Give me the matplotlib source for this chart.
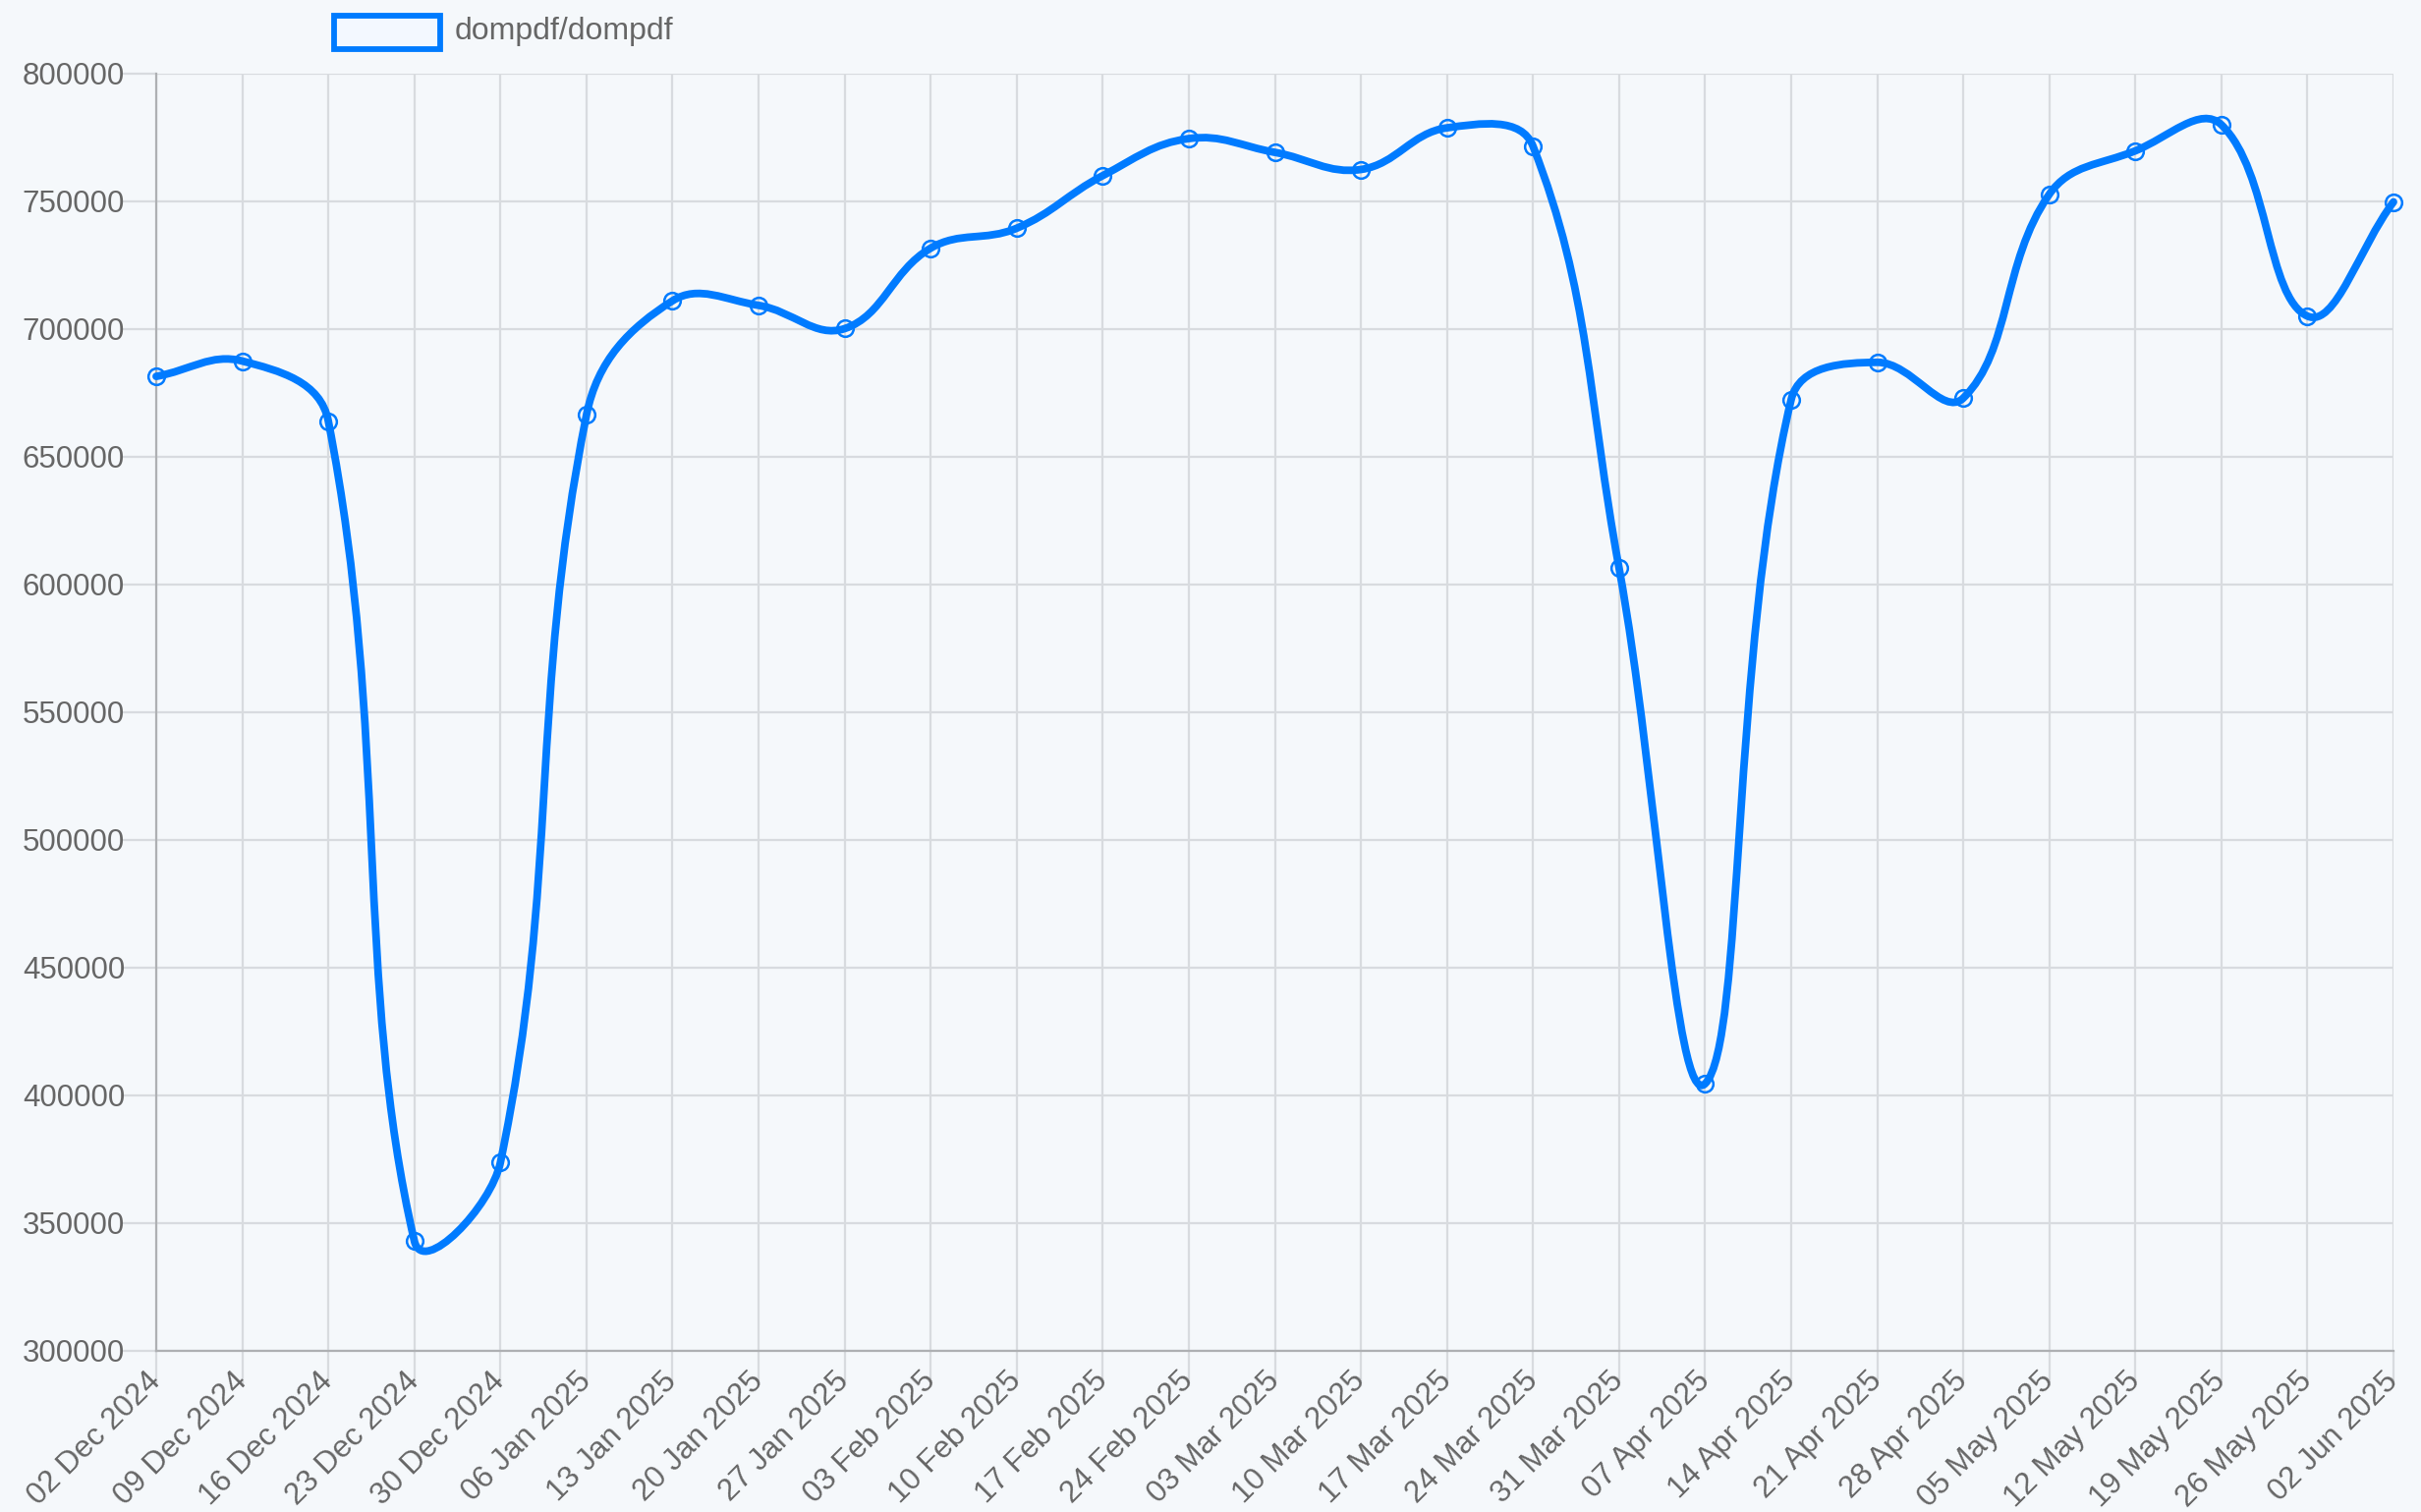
import numpy as np
import matplotlib
matplotlib.use("Agg")
import matplotlib.pyplot as plt
from matplotlib.path import Path
from matplotlib.patches import PathPatch, Rectangle

# weekly values
dates = ["02 Dec 2024", "09 Dec 2024", "16 Dec 2024", "23 Dec 2024", "30 Dec 2024",
         "06 Jan 2025", "13 Jan 2025", "20 Jan 2025", "27 Jan 2025", "03 Feb 2025",
         "10 Feb 2025", "17 Feb 2025", "24 Feb 2025", "03 Mar 2025", "10 Mar 2025",
         "17 Mar 2025", "24 Mar 2025", "31 Mar 2025", "07 Apr 2025", "14 Apr 2025",
         "21 Apr 2025", "28 Apr 2025", "05 May 2025", "12 May 2025", "19 May 2025",
         "26 May 2025", "02 Jun 2025"]
values = [681500, 687500, 664000, 343000, 373800,
          666400, 711100, 709300, 700200, 731700,
          739500, 760100, 774600, 769200, 762500,
          778800, 771600, 606500, 404600, 672400,
          687000, 673000, 752800, 769800, 780000,
          705100, 749800]
series_name = "dompdf/dompdf"
y_ticks = list(range(300000, 800001, 50000))

BG = "#f5f8fb"
BLUE = "#007bff"
GRID = "#d8dbdf"
AXIS = "#aeb0b3"
TXT = "#666666"

W_PX, H_PX, DPI = 2464, 1539, 100
L, R, B, T = 159 / W_PX, 2436 / W_PX, 1 - 1375 / H_PX, 1 - 75 / H_PX

plt.rcParams["font.family"] = ["Liberation Sans", "DejaVu Sans"]
fig = plt.figure(figsize=(W_PX / DPI, H_PX / DPI), dpi=DPI, facecolor=BG)
ax = fig.add_axes([L, B, R - L, T - B], facecolor=BG)

x = np.arange(len(values), dtype=float)
y = np.asarray(values, dtype=float)
ymin, ymax = y_ticks[0], y_ticks[-1]
ax.set_xlim(0, len(values) - 1)
ax.set_ylim(ymin, ymax)

# Chart.js style bezier (tension 0.4), control points computed in pixel space
pw, ph = (R - L) * W_PX, (T - B) * H_PX
px = x / (len(values) - 1) * pw
py = (y - ymin) / (ymax - ymin) * ph
n = len(values)
cp_prev = np.zeros((n, 2))
cp_next = np.zeros((n, 2))
tension = 0.4
for i in range(n):
    p0 = np.array([px[max(i - 1, 0)], py[max(i - 1, 0)]])
    p1 = np.array([px[i], py[i]])
    p2 = np.array([px[min(i + 1, n - 1)], py[min(i + 1, n - 1)]])
    d01 = np.hypot(*(p1 - p0))
    d12 = np.hypot(*(p2 - p1))
    s01 = d01 / (d01 + d12) if d01 + d12 else 0
    s12 = d12 / (d01 + d12) if d01 + d12 else 0
    cp_prev[i] = p1 - tension * s01 * (p2 - p0)
    cp_next[i] = p1 + tension * s12 * (p2 - p0)
cp_prev[:, 0] = np.clip(cp_prev[:, 0], 0, pw)
cp_next[:, 0] = np.clip(cp_next[:, 0], 0, pw)
cp_prev[:, 1] = np.clip(cp_prev[:, 1], 0, ph)
cp_next[:, 1] = np.clip(cp_next[:, 1], 0, ph)


def to_data(p):
    return (p[0] / pw * (n - 1), ymin + p[1] / ph * (ymax - ymin))


verts = [to_data((px[0], py[0]))]
codes = [Path.MOVETO]
for i in range(n - 1):
    verts += [to_data(cp_next[i]), to_data(cp_prev[i + 1]), to_data((px[i + 1], py[i + 1]))]
    codes += [Path.CURVE4] * 3
ax.add_patch(PathPatch(Path(verts, codes), fill=False, edgecolor=BLUE, lw=5.6,
                       capstyle="round", joinstyle="round", zorder=3, clip_on=False))
ax.plot(x, y, ls="none", marker="o", ms=12, mfc="none", mec=BLUE, mew=1.8,
        zorder=4, clip_on=False)

ax.set_yticks(y_ticks)
ax.set_yticklabels([str(v) for v in y_ticks])
ax.set_xticks(x)
ax.set_xticklabels(dates, rotation=45, ha="right", va="center", rotation_mode="anchor")
ax.grid(True, color=GRID, lw=1.6, zorder=0)
ax.tick_params(axis="both", colors=GRID, width=1.6, length=26, labelsize=22.5,
               labelcolor=TXT)
ax.tick_params(axis="y", pad=-3)
ax.tick_params(axis="x", pad=-7)
for side in ("top", "right"):
    ax.spines[side].set_visible(False)
for side in ("left", "bottom"):
    ax.spines[side].set_color(AXIS)
    ax.spines[side].set_linewidth(1.6)

# legend box like Chart.js
fig.patches.append(Rectangle((340 / W_PX, 1 - 50 / H_PX), 108 / W_PX, 34 / H_PX,
                             transform=fig.transFigure, facecolor="#f3f8ff",
                             edgecolor=BLUE, lw=4.2))
fig.text(463 / W_PX, 1 - 32 / H_PX, series_name, color=TXT, fontsize=23,
         va="center", ha="left")

fig.savefig("out.png", dpi=DPI, facecolor=BG)
